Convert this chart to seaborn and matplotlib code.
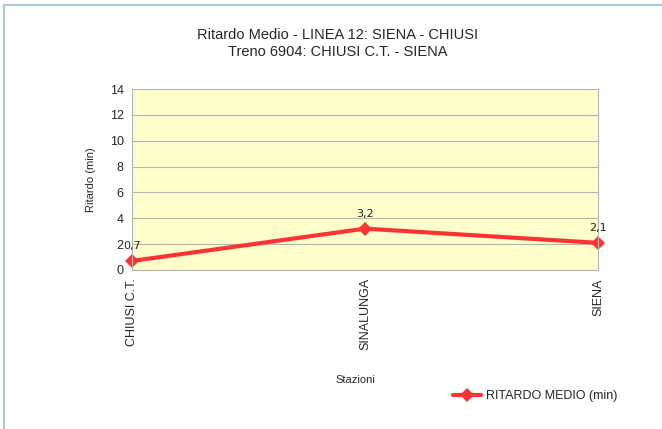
from matplotlib import pyplot as plt
from matplotlib.patches import Rectangle
import pandas as pd
import seaborn as sns

stazioni = ['CHIUSI C.T.', 'SINALUNGA', 'SIENA']
ritardo = [0.7, 3.2, 2.1]
etichette = ['0,7', '3,2', '2,1']

df = pd.DataFrame({'Stazioni': stazioni, 'Ritardo': ritardo})
df['pos'] = range(len(df))

#styling
sns.set_style("white")
plt.rcParams['font.family'] = ['Liberation Sans', 'DejaVu Sans']

f = plt.figure(figsize=(6.62, 4.29), dpi=100)
ax = f.add_axes([132/662, 1 - 270/429, 466/662, 181/429])
ax.set_facecolor('#ffffcc')

sns.lineplot(data=df, x='pos', y='Ritardo', ax=ax, color='#ff3333', linewidth=3,
             marker='D', markersize=7, markeredgewidth=0, label='RITARDO MEDIO (min)',
             legend=False, clip_on=False)

for x, y, t in zip(df['pos'], df['Ritardo'], etichette):
    ax.annotate(t, (x, y), xytext=(0, 7), textcoords='offset points', ha='center',
                va='bottom', fontsize=8, color='#222222', family='DejaVu Sans')

ax.set_xlim(0, 2)
ax.set_ylim(0, 14)
ax.set_yticks(range(0, 15, 2))
ax.set_xticks(df['pos'])
ax.set_xticklabels(stazioni, rotation=90, fontsize=9)
ax.tick_params(axis='y', labelsize=9, length=4, color='#b3b3b3', pad=2)
ax.tick_params(axis='x', length=4, color='#b3b3b3', pad=2)
ax.grid(axis='y', color='#b3b3b3', linewidth=0.8)
ax.set_axisbelow(True)
for s in ax.spines.values():
    s.set_visible(False)
for side in ['left', 'bottom', 'right']:
    ax.spines[side].set_visible(True)
    ax.spines[side].set_color('#b3b3b3')

ax.set_ylabel('Ritardo (min)', fontsize=8, labelpad=10)
ax.set_xlabel('Stazioni', fontsize=8)
ax.xaxis.set_label_coords(0.48, -0.58)

f.text(338/662, 1 - 35/429, 'Ritardo Medio - LINEA 12: SIENA - CHIUSI', ha='center',
       va='center', fontsize=10.5)
f.text(338/662, 1 - 52/429, 'Treno 6904: CHIUSI C.T. - SIENA', ha='center',
       va='center', fontsize=10.5)

leg = f.legend(*ax.get_legend_handles_labels(), loc='center', bbox_to_anchor=(535/662, 1 - 396/429),
               frameon=False, fontsize=9, handlelength=2.2, handletextpad=0.4)

f.patches.append(Rectangle((4/662, -0.1), 1.1, 1.1 - 5/429, transform=f.transFigure,
                           fill=False, edgecolor='#b4c7dc', linewidth=1.5))

f.savefig('out.png', dpi=100)
